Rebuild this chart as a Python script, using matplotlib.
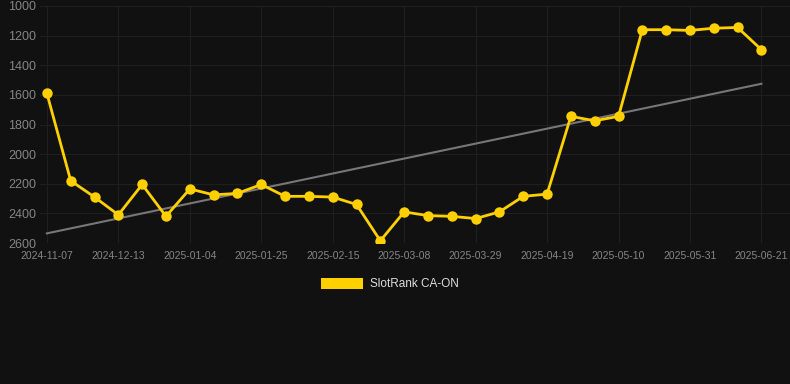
import matplotlib
matplotlib.use("Agg")
import matplotlib.pyplot as plt
from matplotlib.patches import Patch

# ---- Data -------------------------------------------------------------------
dates = [
    "2024-11-07", "2024-11-19", "2024-12-01", "2024-12-13", "2024-12-20",
    "2024-12-27", "2025-01-04", "2025-01-11", "2025-01-18", "2025-01-25",
    "2025-02-01", "2025-02-08", "2025-02-15", "2025-02-22", "2025-03-01",
    "2025-03-08", "2025-03-15", "2025-03-22", "2025-03-29", "2025-04-05",
    "2025-04-12", "2025-04-19", "2025-04-26", "2025-05-03", "2025-05-10",
    "2025-05-17", "2025-05-24", "2025-05-31", "2025-06-07", "2025-06-14",
    "2025-06-21",
]
rank = [
    1590, 2180, 2290, 2410, 2205, 2420, 2235, 2275, 2265, 2205,
    2285, 2285, 2290, 2340, 2585, 2390, 2415, 2420, 2435, 2390,
    2285, 2270, 1745, 1775, 1745, 1160, 1160, 1165, 1150, 1145,
    1295,
]
trend_ends = [2535, 1525]
label = "SlotRank CA-ON"

# ---- Colours ----------------------------------------------------------------
c_bg    = "#111111"
c_grid  = "#1f1f1f"
c_tick  = "#858585"
c_line  = "#ffd000"
c_trend = "#777777"

plt.rcParams["font.family"] = ["Liberation Sans", "DejaVu Sans"]

fig = plt.figure(figsize=(7.9, 3.84), dpi=100, facecolor=c_bg)
ax = fig.add_axes([40 / 790, 141 / 384, 750 / 790, 237 / 384], facecolor=c_bg)

x = list(range(len(rank)))
ax.plot([x[0], x[-1]], trend_ends, color=c_trend, lw=1.5, zorder=2)
ax.plot(x, rank, color=c_line, lw=2.0, marker="o", ms=7.5,
        markeredgewidth=0, zorder=3)

ax.set_ylim(2600, 1000)
ax.set_yticks(range(1000, 2601, 200))
ax.set_xlim(-0.29, 31.2)
ax.set_xticks(x[::3])
ax.set_xticklabels(dates[::3])

ax.grid(True, color=c_grid, lw=0.8)
ax.set_axisbelow(True)
for s in ax.spines.values():
    s.set_visible(False)
ax.tick_params(axis="both", length=0, colors=c_tick)
ax.tick_params(axis="y", labelsize=9, pad=3)
ax.tick_params(axis="x", labelsize=7.5, pad=6)

fig.legend(handles=[Patch(facecolor=c_line, edgecolor="none", label=label)],
           loc="center", bbox_to_anchor=(390 / 790, 1 - 284 / 384),
           frameon=False, fontsize=8.5, labelcolor="#dddddd",
           handlelength=3.6, handleheight=1.1, handletextpad=0.6)

fig.savefig("out.png", dpi=100, facecolor=c_bg)
